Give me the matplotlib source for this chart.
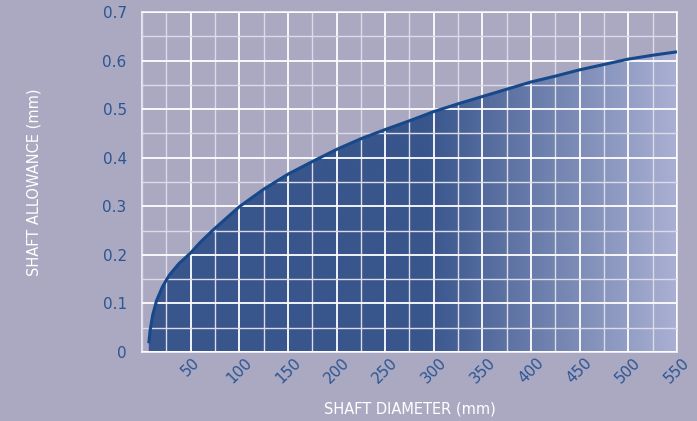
import numpy as np
import matplotlib.pyplot as plt
from matplotlib.colors import LinearSegmentedColormap
from matplotlib.ticker import MultipleLocator

plt.rcParams['font.family'] = ['Liberation Sans Narrow', 'DejaVu Sans Condensed', 'DejaVu Sans']

# curve (diameter mm -> allowance mm)
diameter = [7, 8.4, 11, 15, 21, 28, 38, 50, 60, 73, 87, 100, 125, 150, 175,
            200, 225, 250, 275, 300, 325, 350, 375, 400, 425, 450, 475, 500, 525, 550]
allowance = [0.018, 0.045, 0.076, 0.106, 0.134, 0.158, 0.182, 0.204, 0.226, 0.251,
             0.276, 0.299, 0.335, 0.366, 0.392, 0.417, 0.439, 0.458, 0.476, 0.495,
             0.511, 0.526, 0.541, 0.556, 0.568, 0.581, 0.592, 0.603, 0.611, 0.618]
xticks = [50, 100, 150, 200, 250, 300, 350, 400, 450, 500, 550]
yticks = [0, 0.1, 0.2, 0.3, 0.4, 0.5, 0.6, 0.7]
ylabels = ['0', '0.1', '0.2', '0.3', '0.4', '0.5', '0.6', '0.7']

bg = '#aba9c2'
fig = plt.figure(figsize=(6.97, 4.21), dpi=100, facecolor=bg)
ax = fig.add_axes([0.2037, 0.1639, 0.9713 - 0.2037, 0.9715 - 0.1639])
ax.set_facecolor(bg)

ax.set_xlim(0, 550)
ax.set_ylim(0, 0.7)

# gradient fill under the curve
cmap = LinearSegmentedColormap.from_list(
    'fade', [(0, '#38558c'), (290 / 550, '#38558c'), (1, '#aab0d3')])
grad = np.linspace(0, 1, 512).reshape(1, -1)
im = ax.imshow(grad, cmap=cmap, extent=[0, 550, 0, 0.7], aspect='auto',
               origin='lower', zorder=1)
poly = ax.fill_between(diameter, allowance, 0, color='none', zorder=1)
im.set_clip_path(poly.get_paths()[0], transform=ax.transData)

ax.plot(diameter, allowance, color='#17498a', lw=2.2, zorder=3,
        solid_joinstyle='round', solid_capstyle='butt')

# grid
ax.set_axisbelow(False)
ax.xaxis.set_major_locator(MultipleLocator(50))
ax.xaxis.set_minor_locator(MultipleLocator(25))
ax.yaxis.set_major_locator(MultipleLocator(0.1))
ax.yaxis.set_minor_locator(MultipleLocator(0.05))
ax.grid(which='major', color='white', lw=1.3, zorder=2)
ax.grid(which='minor', color='#dcdce8', lw=1.0, zorder=2)

for s in ax.spines.values():
    s.set_color('#eeeef4')
    s.set_linewidth(1.3)
    s.set_zorder(2)

ax.set_xticks(xticks)
ax.set_xticklabels([str(t) for t in xticks], rotation=45, ha='center',
                   color='#2b5593', fontsize=11)
ax.set_yticks(yticks)
ax.set_yticklabels(ylabels, color='#2b5593', fontsize=11)
ax.tick_params(which='both', length=0)
ax.tick_params(axis='x', pad=2)
ax.tick_params(axis='y', pad=11)

ax.set_xlabel('SHAFT DIAMETER (mm)', color='white', fontsize=10.5)
ax.set_ylabel('SHAFT ALLOWANCE (mm)', color='white', fontsize=10.5)
ax.xaxis.set_label_coords(0.5, -0.147)
ax.yaxis.set_label_coords(-0.187, 0.5)

plt.savefig('out.png', dpi=100, facecolor=bg)
